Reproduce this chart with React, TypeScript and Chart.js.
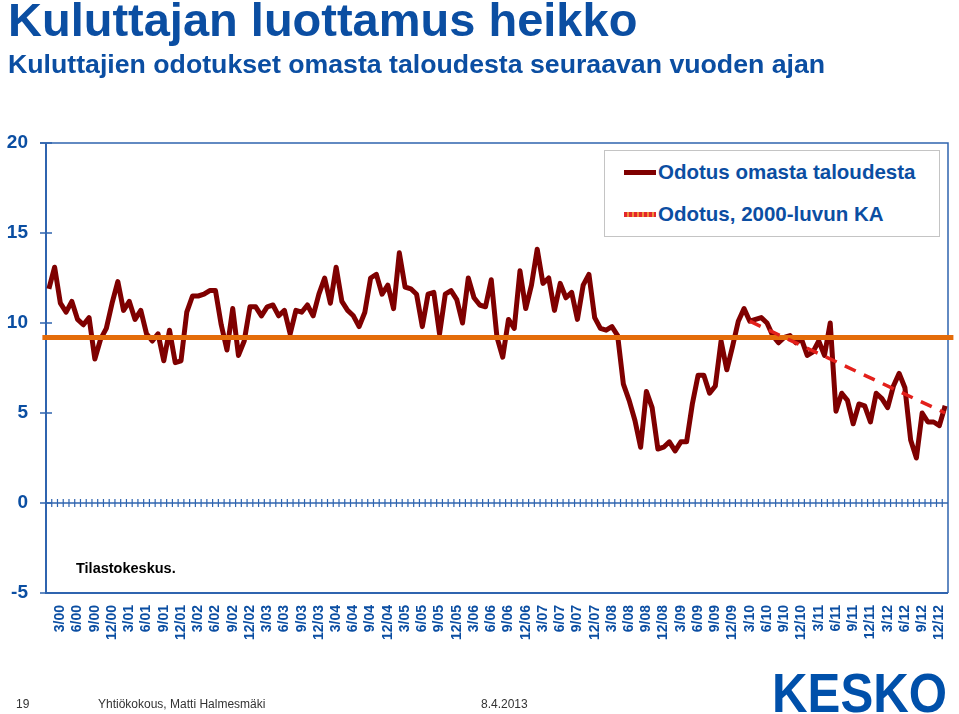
import React, { useEffect, useRef } from 'react';
import { Chart, registerables } from 'chart.js';

Chart.register(...registerables);

// ---- Data ----
const years = ['00', '01', '02', '03', '04', '05', '06', '07', '08', '09', '10', '11', '12'];
const categories: string[] = [];
for (const y of years) for (let m = 1; m <= 12; m++) categories.push(`${m}/${y}`);
categories.push('1/13');

// Monthly "Odotus omasta taloudesta" (balance figure), 1/00 .. 1/13
const ownEconomy = [
  11.9, 13.1, 11.1, 10.6, 11.2, 10.2, 9.9, 10.3, 8.0, 9.1, 9.7, 11.1,
  12.3, 10.7, 11.2, 10.2, 10.7, 9.4, 9.0, 9.4, 7.9, 9.6, 7.8, 7.9,
  10.6, 11.5, 11.5, 11.6, 11.8, 11.8, 9.9, 8.5, 10.8, 8.2, 9.0, 10.9,
  10.9, 10.4, 10.9, 11.0, 10.4, 10.7, 9.4, 10.7, 10.6, 11.0, 10.4, 11.6,
  12.5, 11.1, 13.1, 11.2, 10.7, 10.4, 9.8, 10.6, 12.5, 12.7, 11.6, 12.1,
  10.8, 13.9, 12.0, 11.9, 11.6, 9.8, 11.6, 11.7, 9.4, 11.6, 11.8, 11.3,
  10.0, 12.5, 11.4, 11.0, 10.9, 12.4, 9.2, 8.1, 10.2, 9.7, 12.9, 10.8,
  12.1, 14.1, 12.2, 12.5, 10.7, 12.2, 11.4, 11.7, 10.2, 12.1, 12.7, 10.3,
  9.7, 9.6, 9.8, 9.3, 6.6, 5.7, 4.6, 3.1, 6.2, 5.3, 3.0, 3.1,
  3.4, 2.9, 3.4, 3.4, 5.5, 7.1, 7.1, 6.1, 6.5, 9.0, 7.4, 8.7,
  10.1, 10.8, 10.1, 10.2, 10.3, 10.0, 9.3, 8.9, 9.2, 9.3, 8.9, 9.1,
  8.2, 8.4, 9.0, 8.2, 10.0, 5.1, 6.1, 5.7, 4.4, 5.5, 5.4, 4.5,
  6.1, 5.8, 5.3, 6.5, 7.2, 6.4, 3.5, 2.5, 5.0, 4.5, 4.5, 4.3,
  5.4,
];

// "Odotus, 2000-luvun KA" (average of the 2000s)
const averageValue = 9.2;

// Trend (dashed red) endpoints
const trendStartLabel = '3/10';
const trendStartValue = 10.1;
const trendEndLabel = '1/13';
const trendEndValue = 5.0;

const yTicks = [-5, 0, 5, 10, 15, 20];

// ---- Styles ----
const BLUE_TEXT = '#0B4EA2';
const AXIS = '#2F64AF';
const FONT = '"Liberation Sans", Arial, Helvetica, sans-serif';

const framePlugin = {
  id: 'frame',
  beforeDatasetsDraw(chart: any) {
    const { ctx, chartArea: a, scales } = chart;
    const xs = scales.x;
    const ys = scales.y;
    ctx.save();
    ctx.strokeStyle = AXIS;
    // top & right border
    ctx.lineWidth = 1.5;
    ctx.beginPath();
    ctx.moveTo(a.left - 6, a.top);
    ctx.lineTo(a.right, a.top);
    ctx.lineTo(a.right, a.bottom);
    ctx.stroke();
    // left axis & bottom line
    ctx.lineWidth = 2;
    ctx.beginPath();
    ctx.moveTo(a.left, a.top);
    ctx.lineTo(a.left, a.bottom);
    ctx.lineTo(a.right, a.bottom);
    ctx.stroke();
    // y ticks crossing the axis
    ctx.lineWidth = 1.5;
    ctx.beginPath();
    for (const t of yTicks) {
      const py = ys.getPixelForValue(t);
      ctx.moveTo(a.left - 6, py);
      ctx.lineTo(a.left + 6, py);
    }
    ctx.stroke();
    // zero line with monthly tick marks
    const z = ys.getPixelForValue(0);
    ctx.beginPath();
    ctx.moveTo(a.left, z);
    ctx.lineTo(a.right, z);
    ctx.stroke();
    ctx.lineWidth = 1.2;
    ctx.beginPath();
    for (let i = 1; i < categories.length; i++) {
      const px = (xs.getPixelForValue(i - 1) + xs.getPixelForValue(i)) / 2;
      ctx.moveTo(px, z - 4);
      ctx.lineTo(px, z + 4);
    }
    ctx.stroke();
    ctx.restore();
  },
};

export default function App() {
  const canvasRef = useRef<HTMLCanvasElement | null>(null);

  useEffect(() => {
    if (!canvasRef.current) return;
    const si = categories.indexOf(trendStartLabel);
    const ei = categories.indexOf(trendEndLabel);
    const trend = categories.map((_, i) => (i === si ? trendStartValue : i === ei ? trendEndValue : null));
    // average line spans the full plot width (slightly past both edges, as in the original)
    const avg = [
      { x: -0.004, y: averageValue },
      { x: 1.006, y: averageValue },
    ];

    const chart = new Chart(canvasRef.current, {
      type: 'line',
      data: {
        labels: categories,
        datasets: [
          {
            label: 'Trendi',
            data: trend,
            borderColor: '#E3201B',
            borderWidth: 3.5,
            borderDash: [12, 9],
            pointRadius: 0,
            spanGaps: true,
            order: 0,
          },
          {
            label: 'Odotus, 2000-luvun KA',
            data: avg,
            xAxisID: 'xa',
            borderColor: '#E46C0A',
            borderWidth: 5,
            pointRadius: 0,
            clip: false,
            order: 1,
          },
          {
            label: 'Odotus omasta taloudesta',
            data: ownEconomy,
            borderColor: '#7F0000',
            borderWidth: 5,
            borderJoinStyle: 'round',
            pointRadius: 0,
            tension: 0,
            order: 2,
          },
        ],
      },
      options: {
        animation: false,
        responsive: true,
        maintainAspectRatio: false,
        layout: { padding: { left: 0, top: 143, right: 11, bottom: 0 } },
        plugins: { legend: { display: false }, tooltip: { enabled: false } },
        events: [],
        scales: {
          x: {
            type: 'category',
            offset: true,
            grid: { display: false, drawTicks: false },
            border: { display: false },
            ticks: {
              autoSkip: false,
              minRotation: 90,
              maxRotation: 90,
              padding: 12,
              color: BLUE_TEXT,
              font: { family: FONT, size: 14, weight: 'bold' },
              callback: (_v: any, index: number) => {
                const lab = categories[index];
                const m = parseInt(lab, 10);
                return m % 3 === 0 ? lab : '';
              },
            },
            afterFit: (s: any) => {
              s.height = 121;
              s.paddingLeft = 0;
              s.paddingRight = 0;
            },
          },
          xa: {
            type: 'linear',
            display: false,
            min: 0,
            max: 1,
          },
          y: {
            type: 'linear',
            min: -5,
            max: 20,
            grid: { display: false, drawTicks: false },
            border: { display: false },
            ticks: {
              stepSize: 5,
              padding: 18,
              color: BLUE_TEXT,
              font: { family: FONT, size: 19, weight: 'bold' },
            },
            afterFit: (s: any) => {
              s.width = 46;
            },
          },
        },
      },
      plugins: [framePlugin],
    } as any);
    return () => chart.destroy();
  }, []);

  const abs = (o: any) => ({ position: 'absolute', whiteSpace: 'nowrap', ...o } as React.CSSProperties);

  return (
    <div style={{ position: 'fixed', left: 0, top: 0, width: 959, height: 714, background: '#fff', overflow: 'hidden', fontFamily: FONT }}>
      <div style={{ position: 'absolute', left: 0, top: 0, width: 959, height: 714 }}>
        <canvas ref={canvasRef} />
      </div>
      <div style={abs({ left: 8, top: 0, fontSize: 47, lineHeight: '40px', fontWeight: 'bold', color: BLUE_TEXT })}>
        Kuluttajan luottamus heikko
      </div>
      <div style={abs({ left: 8, top: 51, fontSize: 26.7, lineHeight: '27px', fontWeight: 'bold', color: BLUE_TEXT })}>
        Kuluttajien odotukset omasta taloudesta seuraavan vuoden ajan
      </div>
      <div style={abs({ left: 604, top: 150, width: 336, height: 87, border: '1px solid #C4C4C4', boxSizing: 'border-box', background: '#fff' })} />
      <div style={abs({ left: 624, top: 169.5, width: 32, height: 5, background: '#7F0000' })} />
      <div style={abs({ left: 658, top: 160, fontSize: 20.5, lineHeight: '24px', fontWeight: 'bold', color: BLUE_TEXT })}>
        Odotus omasta taloudesta
      </div>
      <div
        style={abs({
          left: 624,
          top: 211.5,
          width: 32,
          height: 5,
          background: 'repeating-linear-gradient(90deg, #E3262E 0px, #E3262E 3px, #F0903C 3px, #F0903C 5px)',
        })}
      />
      <div style={abs({ left: 658, top: 202, fontSize: 20.5, lineHeight: '24px', fontWeight: 'bold', color: BLUE_TEXT })}>
        Odotus, 2000-luvun KA
      </div>
      <div style={abs({ left: 76, top: 559.5, fontSize: 14.5, lineHeight: '17px', fontWeight: 'bold', color: '#000' })}>
        Tilastokeskus.
      </div>
      <div style={abs({ left: 16, top: 697, fontSize: 12, lineHeight: '15px', color: '#333' })}>19</div>
      <div style={abs({ left: 98, top: 697, fontSize: 12, lineHeight: '15px', color: '#333' })}>
        Yhtiökokous, Matti Halmesmäki
      </div>
      <div style={abs({ left: 481, top: 697, fontSize: 12, lineHeight: '15px', color: '#333' })}>8.4.2013</div>
      <div
        style={abs({
          left: 772,
          top: 672,
          fontSize: 55,
          lineHeight: '42px',
          fontWeight: 900,
          color: '#0050AA',
          transform: 'scaleX(0.895)',
          transformOrigin: 'left top',
        })}
      >
        KESKO
      </div>
    </div>
  );
}
